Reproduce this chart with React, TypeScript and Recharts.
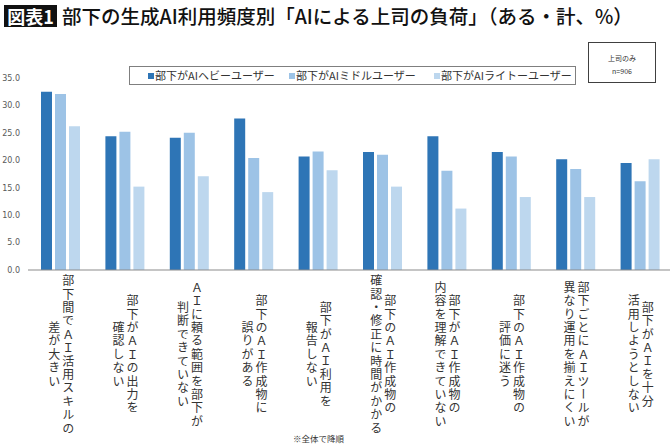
import { BarChart, Bar, XAxis, YAxis, Legend } from 'recharts'

// two-line vertical category labels (right column first, then left)
const labelLine1 = [
  '部下間でＡＩ活用スキルの',
  '部下がＡＩの出力を',
  'ＡＩに頼る範囲を部下が',
  '部下のＡＩ作成物に',
  '部下がＡＩ利用を',
  '部下のＡＩ作成物の',
  '部下がＡＩ作成物の',
  '部下のＡＩ作成物の',
  '部下ごとにＡＩツールが',
  '部下がＡＩを十分',
]
const labelLine2 = [
  '差が大きい',
  '確認しない',
  '判断できていない',
  '誤りがある',
  '報告しない',
  '確認・修正に時間がかかる',
  '内容を理解できていない',
  '評価に迷う',
  '異なり運用を揃えにくい',
  '活用しようとしない',
]

const heavy = [32.5, 24.4, 24.1, 27.6, 20.7, 21.5, 24.4, 21.5, 20.2, 19.5]
const middle = [32.1, 25.2, 25.0, 20.4, 21.6, 21.0, 18.1, 20.7, 18.4, 16.2]
const light = [26.2, 15.2, 17.1, 14.2, 18.2, 15.2, 11.2, 13.3, 13.3, 20.2]

const yTicks = [0, 5, 10, 15, 20, 25, 30, 35]

const seriesNames = ['部下がAIヘビーユーザー', '部下がAIミドルユーザー', '部下がAIライトーユーザー']
const seriesColors = ['#2E75B6', '#9DC3E6', '#BDD7EE']

const data = labelLine1.map((l1, i) => ({
  idx: i,
  name: l1 + labelLine2[i],
  heavy: heavy[i],
  middle: middle[i],
  light: light[i],
}))

const jp = '"Noto Sans CJK JP", "Noto Sans", sans-serif'

// eslint-disable-next-line @typescript-eslint/no-explicit-any
const CategoryTick = ({ x, y, payload }: any) => {
  const i = payload.value as number
  const cy = y + 77
  const common = {
    y: cy,
    textAnchor: 'middle' as const,
    fontSize: 12,
    fill: '#333333',
    fontFamily: jp,
    letterSpacing: 1.4,
    style: { writingMode: 'vertical-rl' as const },
  }
  return (
    <g>
      <text x={x + 8} {...common}>{labelLine1[i]}</text>
      <text x={x - 6} {...common}>{labelLine2[i]}</text>
    </g>
  )
}

const legendLeft = [18, 159, 304]

const LegendBox = () => (
  <div
    style={{
      position: 'relative',
      width: 445,
      height: 17,
      border: '1px solid #7F7F7F',
      fontFamily: jp,
      fontSize: 11,
      color: '#333333',
    }}
  >
    {seriesNames.map((n, i) => (
      <div
        key={n}
        style={{
          position: 'absolute',
          left: legendLeft[i],
          top: 0,
          height: 17,
          lineHeight: '17px',
          whiteSpace: 'nowrap',
          display: 'flex',
          alignItems: 'center',
        }}
      >
        <span style={{ display: 'inline-block', width: 6, height: 6, background: seriesColors[i], marginRight: 1 }} />
        {n}
      </div>
    ))}
  </div>
)

export default function App() {
  return (
    <div
      style={{
        position: 'absolute',
        left: 0,
        top: 0,
        width: 670,
        height: 448,
        overflow: 'hidden',
        background: '#ffffff',
        fontFamily: jp,
      }}
    >
      <div
        style={{
          position: 'absolute',
          left: 4,
          top: 5,
          width: 53,
          height: 22,
          background: '#111111',
          color: '#ffffff',
          fontWeight: 700,
          fontSize: 18,
          lineHeight: '22px',
          textAlign: 'center',
        }}
      >
        図表1
      </div>
      <div
        style={{
          position: 'absolute',
          left: 62,
          top: 2,
          fontSize: 19.5,
          lineHeight: '28px',
          color: '#111111',
          whiteSpace: 'nowrap',
          fontWeight: 500,
        }}
      >
        部下の生成AI利用頻度別「AIによる上司の負荷」（ある・計、%）
      </div>
      <div
        style={{
          position: 'absolute',
          left: 588,
          top: 42,
          width: 68,
          height: 41,
          border: '1.5px solid #404040',
          fontSize: 7,
          color: '#333333',
          textAlign: 'center',
          lineHeight: '13px',
          paddingTop: 9,
          boxSizing: 'border-box',
        }}
      >
        <div>上司のみ</div>
        <div>n=906</div>
      </div>

      <BarChart
        width={672}
        height={448}
        data={data}
        margin={{ top: 78, right: 0, left: 0, bottom: 0 }}
        barSize={11}
        barGap={3}
        style={{ position: 'absolute', left: 0, top: 0 }}
      >
        <XAxis
          dataKey="idx"
          height={178}
          interval={0}
          tickLine={false}
          axisLine={{ stroke: '#8C8C8C', strokeWidth: 1.2 }}
          tick={<CategoryTick />}
        />
        <YAxis
          width={28}
          domain={[0, 35]}
          ticks={yTicks}
          axisLine={false}
          tickLine={false}
          tickFormatter={(v: number) => v.toFixed(1)}
          tick={{ fill: '#595959', fontSize: 8, fontFamily: '"DejaVu Sans", sans-serif' }}
        />
        <Legend
          layout="horizontal"
          verticalAlign="middle"
          align="center"
          content={<LegendBox />}
          wrapperStyle={{ position: 'absolute', left: 129, top: 66, width: 447 }}
        />
        <Bar dataKey="heavy" name={seriesNames[0]} fill={seriesColors[0]} isAnimationActive={false} />
        <Bar dataKey="middle" name={seriesNames[1]} fill={seriesColors[1]} isAnimationActive={false} />
        <Bar dataKey="light" name={seriesNames[2]} fill={seriesColors[2]} isAnimationActive={false} />
      </BarChart>

      <div
        style={{
          position: 'absolute',
          left: 293,
          top: 432,
          fontSize: 8.5,
          color: '#333333',
          whiteSpace: 'nowrap',
        }}
      >
        ※全体で降順
      </div>
    </div>
  )
}
